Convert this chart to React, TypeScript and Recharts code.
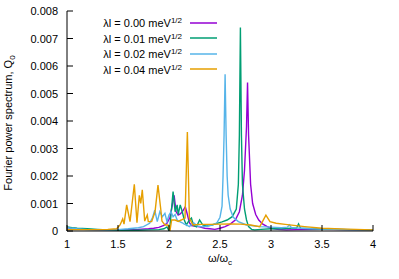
import React from "react";
import { LineChart, Line, XAxis, YAxis, Legend } from "recharts";

// tick values
const xTicks = [1, 1.5, 2, 2.5, 3, 3.5, 4];
const yTicks = [0, 0.001, 0.002, 0.003, 0.004, 0.005, 0.006, 0.007, 0.008];

// coupling strengths (meV^1/2) and gnuplot default colours
const couplings = ["0.00", "0.01", "0.02", "0.04"];
const colors = ["#9400d3", "#009e73", "#56b4e9", "#e69f00"];

// [omega/omega_c, Q0]
const spec000: [number, number][] = [
  [1.0, 0.00013], [1.05, 0.0001], [1.1, 0.00008], [1.2, 0.00006], [1.3, 0.00005],
  [1.4, 0.00005], [1.5, 0.00005], [1.6, 0.00005], [1.7, 0.00006], [1.8, 0.00008],
  [1.85, 0.0001], [1.9, 0.00013], [1.95, 0.0002], [1.98, 0.00028], [2.01, 0.0005],
  [2.03, 0.0009], [2.05, 0.0013], [2.07, 0.0007], [2.09, 0.00058], [2.11, 0.00062],
  [2.13, 0.0007], [2.16, 0.00088], [2.18, 0.0006], [2.2, 0.0003], [2.22, 0.0002],
  [2.25, 0.00018], [2.3, 0.00015], [2.35, 0.0001], [2.4, 0.00008], [2.45, 0.00006],
  [2.5, 0.0001], [2.55, 0.00016], [2.6, 0.00025], [2.65, 0.0004], [2.69, 0.0007],
  [2.72, 0.0013], [2.74, 0.0022], [2.76, 0.0038], [2.77, 0.0054], [2.78, 0.0035],
  [2.8, 0.0017], [2.82, 0.001], [2.85, 0.0006], [2.88, 0.0004], [2.92, 0.00025],
  [2.96, 0.00017], [3.0, 0.0001], [3.06, 0.00006], [3.15, 0.00004], [3.25, 0.00005],
  [3.5, 0.00006], [3.75, 0.00005], [4.0, 0.00004],
];

const spec001: [number, number][] = [
  [1.0, 0.00015], [1.05, 0.00012], [1.1, 0.0001], [1.2, 0.00008], [1.3, 0.00006],
  [1.4, 0.00004], [1.5, 0.00003], [1.6, 0.00003], [1.7, 0.00003], [1.8, 0.00004],
  [1.9, 0.00005], [1.95, 0.00008], [1.98, 0.00015], [2.0, 0.00001], [2.01, 0.0002],
  [2.02, 0.0006], [2.04, 0.00143], [2.06, 0.0007], [2.08, 0.00095], [2.09, 0.0006],
  [2.11, 0.00095], [2.13, 0.0007], [2.15, 0.0004], [2.17, 0.00022], [2.2, 0.0004],
  [2.22, 0.00047], [2.24, 0.0002], [2.27, 0.00015], [2.3, 0.0004], [2.33, 0.00022],
  [2.37, 0.00018], [2.42, 0.00022], [2.47, 0.00028], [2.52, 0.00033], [2.57, 0.0004],
  [2.62, 0.00052], [2.66, 0.0008], [2.68, 0.0017], [2.69, 0.0035], [2.7, 0.0074],
  [2.71, 0.0035], [2.72, 0.0017], [2.74, 0.0008], [2.76, 0.0004], [2.78, 0.00016],
  [2.81, 0.00006], [2.84, 0.00004], [2.9, 0.00006], [3.0, 0.00008], [3.1, 0.00008],
  [3.2, 0.0001], [3.25, 0.0001], [3.27, 0.00026], [3.29, 0.0001], [3.4, 0.00008],
  [3.6, 0.00006], [3.8, 0.00005], [4.0, 0.00004],
];

const spec002: [number, number][] = [
  [1.0, 0.00012], [1.05, 0.0001], [1.1, 0.00008], [1.2, 0.00005], [1.3, 0.00004],
  [1.4, 0.00004], [1.5, 0.00005], [1.6, 0.00008], [1.7, 0.00012], [1.75, 0.00016],
  [1.81, 0.00028], [1.84, 0.0005], [1.86, 0.00076], [1.885, 0.00034], [1.91, 0.0007],
  [1.935, 0.00052], [1.96, 0.00064], [1.98, 0.00034], [2.0, 0.00058], [2.02, 0.0007],
  [2.04, 0.00052], [2.06, 0.0006], [2.08, 0.0004], [2.1, 0.00035], [2.13, 0.0003],
  [2.15, 0.00025], [2.17, 0.00022], [2.2, 0.00016], [2.24, 0.0003], [2.28, 0.00018],
  [2.33, 0.00015], [2.38, 0.00018], [2.43, 0.00022], [2.47, 0.0003], [2.5, 0.0005],
  [2.52, 0.0009], [2.53, 0.002], [2.54, 0.0035], [2.55, 0.0057], [2.56, 0.0035],
  [2.57, 0.002], [2.58, 0.0013], [2.6, 0.0008], [2.63, 0.0005], [2.68, 0.00034],
  [2.76, 0.00022], [2.89, 0.00016], [3.0, 0.00014], [3.1, 0.00012], [3.16, 0.00014],
  [3.18, 0.00022], [3.2, 0.00012], [3.3, 0.0001], [3.5, 0.00007], [3.75, 0.00005],
  [4.0, 0.00004],
];

const spec004: [number, number][] = [
  [1.0, 0.00005], [1.1, 0.00005], [1.2, 0.00005], [1.3, 0.00005], [1.4, 0.00006],
  [1.487, 0.00008], [1.52, 0.00022], [1.546, 0.00044], [1.559, 0.00025], [1.585, 0.00095],
  [1.618, 0.00034], [1.66, 0.0017], [1.686, 0.0003], [1.709, 0.0013], [1.723, 0.001],
  [1.738, 0.0015], [1.762, 0.00036], [1.787, 0.00058], [1.797, 0.00034], [1.83, 0.00034],
  [1.863, 0.0007], [1.892, 0.00167], [1.919, 0.0008], [1.931, 0.00036], [1.96, 0.00022],
  [1.99, 0.00022], [2.01, 0.00002], [2.026, 0.0004], [2.06, 0.0004], [2.09, 0.00035],
  [2.12, 0.0004], [2.157, 0.00047], [2.18, 0.0036], [2.2, 0.00046], [2.235, 0.00022],
  [2.3, 0.00024], [2.4, 0.00024], [2.5, 0.00025], [2.6, 0.00026], [2.7, 0.00025],
  [2.8, 0.00022], [2.89, 0.00016], [2.95, 0.00058], [2.99, 0.00034], [3.05, 0.00028],
  [3.14, 0.00024], [3.33, 0.00016], [3.5, 0.0001], [3.75, 0.00007], [4.0, 0.00004],
];

const spectra = [spec000, spec001, spec002, spec004];

const FONT = "'Liberation Sans', Arial, sans-serif";
const TICK = 6;

const fmtX = (v: number) => String(v);
const fmtY = (v: number) => (v === 0 ? "0" : v.toFixed(3));

const BottomTick = ({ x, y, payload }: any) => (
  <g>
    <line x1={x} y1={y} x2={x} y2={y - TICK} stroke="#000" />
    <text x={x} y={y + 17} textAnchor="middle" fontSize={11} fontFamily={FONT} fill="#000">
      {fmtX(payload.value)}
    </text>
  </g>
);

const TopTick = ({ x, y }: any) => <line x1={x} y1={y} x2={x} y2={y + TICK} stroke="#000" />;

const LeftTick = ({ x, y, payload }: any) => (
  <g>
    <line x1={x} y1={y} x2={x + TICK} y2={y} stroke="#000" />
    <text x={x - 9} y={y + 4} textAnchor="end" fontSize={11} fontFamily={FONT} fill="#000">
      {fmtY(payload.value)}
    </text>
  </g>
);

const RightTick = ({ x, y }: any) => <line x1={x} y1={y} x2={x - TICK} y2={y} stroke="#000" />;

const YLabel = ({ viewBox }: any) => {
  const cx = viewBox.x + 12;
  const cy = viewBox.y + viewBox.height / 2 + 2;
  return (
    <text
      x={cx}
      y={cy}
      transform={`rotate(-90 ${cx} ${cy})`}
      textAnchor="middle"
      fontSize={11}
      fontFamily={FONT}
      fill="#000"
    >
      Fourier power spectrum, Q
      <tspan fontSize={8} dy={3}>0</tspan>
    </text>
  );
};

const XLabel = ({ viewBox }: any) => (
  <text
    x={viewBox.x + viewBox.width / 2}
    y={viewBox.y + 31}
    textAnchor="middle"
    fontSize={11}
    fontFamily={FONT}
    fill="#000"
  >
    ω/ω
    <tspan fontSize={8} dy={3}>c</tspan>
  </text>
);

const KeyBox = () => (
  <div style={{ fontFamily: FONT, fontSize: 11, color: "#000" }}>
    {couplings.map((c, i) => (
      <div key={c} style={{ display: "flex", alignItems: "center", justifyContent: "flex-end", height: 15.5 }}>
        <span style={{ whiteSpace: "nowrap" }}>
          λl = {c} meV<sup style={{ fontSize: 8, verticalAlign: 4 }}>1/2</sup>
        </span>
        <svg width={27} height={4} style={{ marginLeft: 8, display: "block" }}>
          <line x1={0} y1={2} x2={27} y2={2} stroke={colors[i]} strokeWidth={1.5} />
        </svg>
      </div>
    ))}
  </div>
);

export default function App() {
  return (
    <div style={{ position: "absolute", left: 0, top: 0, background: "#fff" }}>
      <LineChart width={399} height={279} margin={{ top: 11, right: 26, bottom: 0, left: 0 }}>
        <XAxis
          dataKey="w"
          type="number"
          domain={[1, 4]}
          ticks={xTicks}
          interval={0}
          height={48}
          tickSize={0}
          tickMargin={0}
          tickLine={false}
          tick={<BottomTick />}
          axisLine={{ stroke: "#000" }}
          label={<XLabel />}
          allowDataOverflow
        />
        <XAxis
          xAxisId="top"
          orientation="top"
          type="number"
          domain={[1, 4]}
          ticks={xTicks}
          interval={0}
          height={0}
          tickSize={0}
          tickMargin={0}
          tickLine={false}
          tick={<TopTick />}
          axisLine={{ stroke: "#000" }}
          allowDataOverflow
        />
        <YAxis
          type="number"
          domain={[0, 0.008]}
          ticks={yTicks}
          interval={0}
          width={67}
          tickSize={0}
          tickMargin={0}
          tickLine={false}
          tick={<LeftTick />}
          axisLine={{ stroke: "#000" }}
          label={<YLabel />}
          allowDataOverflow
        />
        <YAxis
          yAxisId="right"
          orientation="right"
          type="number"
          domain={[0, 0.008]}
          ticks={yTicks}
          interval={0}
          width={0}
          tickSize={0}
          tickMargin={0}
          tickLine={false}
          tick={<RightTick />}
          axisLine={{ stroke: "#000" }}
          allowDataOverflow
        />
        {spectra.map((s, i) => (
          <Line
            key={couplings[i]}
            data={s.map(([w, q]) => ({ w, q }))}
            dataKey="q"
            name={couplings[i]}
            type="linear"
            stroke={colors[i]}
            strokeWidth={1.4}
            dot={false}
            isAnimationActive={false}
          />
        ))}
        <Legend
          layout="vertical"
          align="center"
          verticalAlign="middle"
          content={<KeyBox />}
          wrapperStyle={{ position: "absolute", left: 0, top: 15, width: 217 }}
        />
      </LineChart>
    </div>
  );
}
